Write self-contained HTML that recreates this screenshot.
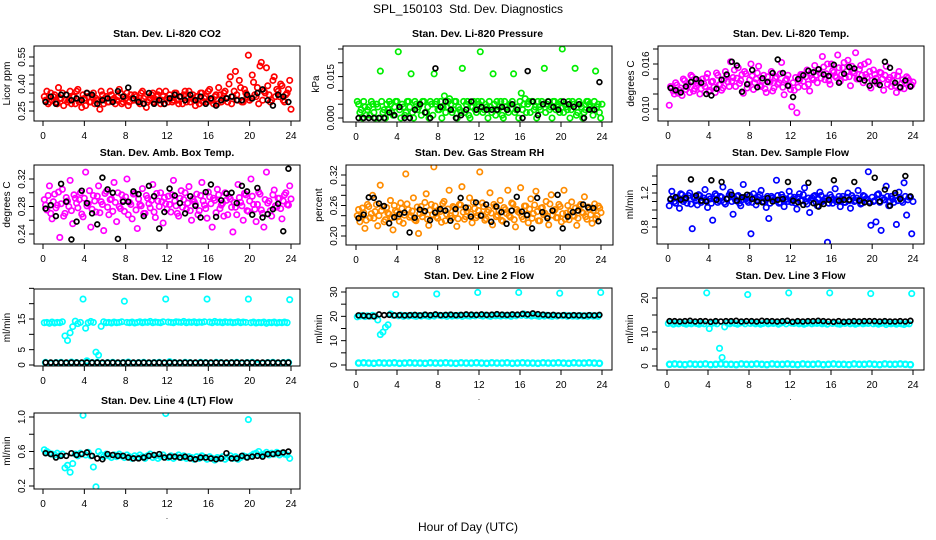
<!DOCTYPE html>
<html><head><meta charset="utf-8"><style>
html,body{margin:0;padding:0;background:#fff;}
svg{display:block;font-family:"Liberation Sans",Arial,sans-serif;}
</style></head><body>
<svg id="chart" width="936" height="540" viewBox="0 0 936 540" xmlns="http://www.w3.org/2000/svg">
<text x="468" y="13" text-anchor="middle" font-size="12">SPL_150103&#160; Std. Dev. Diagnostics</text>
<text x="468" y="531" text-anchor="middle" font-size="12">Hour of Day (UTC)</text>
</svg>
<script>
const xTicks = [0,4,8,12,16,20,24];

const co2 = [0.33,0.36,0.30,0.31,0.34,0.29,0.32,0.35,0.31,0.30,0.36,0.33,0.29,0.37,0.31,0.34,0.28,0.33,0.30,0.35,0.32,0.31,0.36,0.29,0.33,0.30,0.34,0.32,0.31,0.37,0.29,0.33,0.35,0.30,0.32,0.34,0.31,0.29,0.36,0.33,0.30,0.32,0.35,0.31,0.34,0.29,0.33,0.36,0.30,0.32,0.31,0.35,0.29,0.33,0.34,0.30,0.36,0.32,0.31,0.33,0.29,0.35,0.32,0.30,0.37,0.31,0.33,0.29,0.34,0.32,0.36,0.30,0.44,0.33,0.47,0.31,0.38,0.30,0.35,0.56,0.32,0.41,0.33,0.29,0.52,0.36,0.49,0.34,0.31,0.44,0.37,0.33,0.39,0.30,0.35,0.42];
const co2b = [0.31,0.29,0.35,0.33,0.30,0.38,0.32,0.28,0.34,0.31,0.29,0.33,0.36,0.30,0.27,0.32,0.35,0.30,0.33,0.29,0.31,0.26,0.34,0.32,0.30,0.36,0.31,0.29,0.33,0.35,0.30,0.32,0.28,0.34,0.31,0.33,0.30,0.35,0.32,0.27,0.31,0.34,0.30,0.33,0.36,0.31,0.29,0.32,0.34,0.30,0.35,0.31,0.33,0.29,0.36,0.32,0.30,0.34,0.28,0.31,0.35,0.30,0.33,0.36,0.31,0.29,0.34,0.38,0.30,0.35,0.32,0.40,0.29,0.36,0.34,0.42,0.30,0.37,0.33,0.31,0.45,0.34,0.38,0.50,0.31,0.35,0.39,0.30,0.42,0.33,0.36,0.40,0.31,0.34,0.37,0.26];
const co2K = [0.30,0.33,0.29,0.34,0.34,0.31,0.32,0.31,0.35,0.34,0.29,0.31,0.32,0.30,0.36,0.33,0.38,0.32,0.30,0.29,0.35,0.29,0.31,0.29,0.32,0.34,0.33,0.31,0.34,0.31,0.33,0.29,0.32,0.28,0.31,0.32,0.33,0.31,0.31,0.34,0.32,0.35,0.37,0.31,0.28,0.34,0.33,0.30];

const pres = [0.006,0.002,0.0,0.004,0.003,0.001,0.005,0.0,0.004,0.017,0.002,0.0,0.003,0.005,0.001,0.006,0.024,0.0,0.004,0.002,0.006,0.016,0.0,0.005,0.004,0.001,0.006,0.002,0.0,0.005,0.016,0.006,0.003,0.0,0.008,0.004,0.007,0.002,0.006,0.0,0.003,0.018,0.002,0.006,0.0,0.004,0.003,0.006,0.024,0.002,0.005,0.0,0.004,0.016,0.001,0.003,0.006,0.0,0.004,0.002,0.005,0.016,0.003,0.0,0.009,0.005,0.002,0.006,0.006,0.003,0.0,0.004,0.006,0.018,0.005,0.003,0.0,0.006,0.004,0.002,0.025,0.005,0.003,0.0,0.006,0.018,0.002,0.005,0.0,0.003,0.006,0.004,0.001,0.017,0.005,0.0];
const pres2 = [0.005,0.003,0.006,0.001,0.004,0.006,0.002,0.005,0.0,0.006,0.003,0.005,0.006,0.002,0.004,0.006,0.003,0.005,0.001,0.006,0.004,0.002,0.006,0.003,0.005,0.006,0.002,0.004,0.006,0.001,0.005,0.003,0.006,0.004,0.002,0.006,0.005,0.003,0.006,0.004,0.002,0.006,0.005,0.001,0.004,0.006,0.002,0.005,0.006,0.003,0.004,0.006,0.002,0.005,0.006,0.004,0.001,0.006,0.003,0.005,0.006,0.002,0.004,0.006,0.003,0.007,0.005,0.002,0.006,0.004,0.006,0.003,0.005,0.002,0.006,0.004,0.006,0.003,0.005,0.006,0.002,0.004,0.006,0.003,0.005,0.001,0.006,0.004,0.002,0.006,0.005,0.003,0.006,0.004,0.002,0.005];
const presK = [0.0,0.0,0.0,0.0,0.0,0.0,0.002,0.001,0.004,0.0,0.0,0.003,0.005,0.002,0.0,0.018,0.004,0.006,0.003,0.0,0.001,0.003,0.006,0.003,0.004,0.003,0.003,0.003,0.004,0.003,0.005,0.003,0.0,0.017,0.006,0.001,0.005,0.006,0.004,0.003,0.006,0.005,0.004,0.005,0.0,0.003,0.003,0.013];

const temp = [0.0105,0.0128,0.0120,0.0132,0.0125,0.0118,0.0138,0.0130,0.0122,0.0143,0.0127,0.0135,0.0120,0.0140,0.0130,0.0147,0.0125,0.0137,0.0122,0.0145,0.0133,0.0128,0.0150,0.0136,0.0163,0.0142,0.0130,0.0155,0.0138,0.0121,0.0147,0.0133,0.0160,0.0126,0.0140,0.0157,0.0130,0.0145,0.0122,0.0136,0.0150,0.0128,0.0143,0.0135,0.0162,0.0119,0.0140,0.0131,0.0103,0.0125,0.0095,0.0138,0.0146,0.0130,0.0152,0.0124,0.0141,0.0158,0.0135,0.0148,0.0170,0.0139,0.0160,0.0133,0.0151,0.0144,0.0172,0.0137,0.0155,0.0142,0.0165,0.0131,0.0150,0.0175,0.0140,0.0158,0.0135,0.0146,0.0163,0.0128,0.0152,0.0141,0.0136,0.0148,0.0125,0.0157,0.0139,0.0130,0.0145,0.0122,0.0150,0.0134,0.0127,0.0143,0.0138,0.0132];
const temp2 = [0.0130,0.0124,0.0135,0.0121,0.0128,0.0140,0.0126,0.0133,0.0145,0.0124,0.0131,0.0138,0.0127,0.0134,0.0142,0.0123,0.0136,0.0129,0.0148,0.0132,0.0125,0.0139,0.0144,0.0130,0.0137,0.0152,0.0141,0.0134,0.0146,0.0150,0.0128,0.0139,0.0144,0.0135,0.0148,0.0131,0.0138,0.0127,0.0143,0.0136,0.0124,0.0141,0.0133,0.0147,0.0129,0.0138,0.0145,0.0126,0.0135,0.0142,0.0129,0.0146,0.0137,0.0143,0.0133,0.0148,0.0139,0.0145,0.0152,0.0141,0.0156,0.0147,0.0138,0.0160,0.0149,0.0142,0.0155,0.0146,0.0162,0.0150,0.0143,0.0157,0.0148,0.0140,0.0153,0.0145,0.0160,0.0142,0.0150,0.0138,0.0146,0.0134,0.0149,0.0140,0.0145,0.0133,0.0142,0.0137,0.0131,0.0144,0.0128,0.0139,0.0135,0.0141,0.0130,0.0136];
const tempK = [0.0128,0.0125,0.0122,0.0130,0.0136,0.0140,0.0135,0.0120,0.0118,0.0127,0.0139,0.0146,0.0163,0.0158,0.0123,0.0133,0.0152,0.0129,0.0141,0.0136,0.0148,0.0166,0.0148,0.0131,0.0116,0.0140,0.0145,0.0151,0.0149,0.0153,0.0146,0.0144,0.0159,0.0135,0.0147,0.0156,0.0154,0.0140,0.0138,0.0131,0.0137,0.0132,0.0163,0.0155,0.0135,0.0129,0.0138,0.0130];

const amb = [0.290,0.275,0.310,0.262,0.298,0.282,0.235,0.305,0.270,0.288,0.318,0.255,0.292,0.278,0.300,0.265,0.330,0.284,0.250,0.296,0.272,0.310,0.287,0.245,0.302,0.268,0.291,0.315,0.258,0.280,0.297,0.273,0.320,0.286,0.262,0.299,0.248,0.283,0.306,0.270,0.292,0.278,0.312,0.264,0.288,0.300,0.256,0.284,0.295,0.272,0.318,0.281,0.266,0.303,0.290,0.276,0.309,0.260,0.287,0.298,0.274,0.315,0.282,0.263,0.294,0.250,0.289,0.305,0.277,0.285,0.300,0.268,0.291,0.243,0.279,0.312,0.286,0.260,0.297,0.273,0.320,0.283,0.258,0.301,0.275,0.250,0.330,0.288,0.266,0.304,0.279,0.292,0.262,0.297,0.283,0.310];
const amb2 = [0.282,0.296,0.270,0.287,0.278,0.301,0.284,0.266,0.293,0.280,0.274,0.297,0.285,0.290,0.269,0.292,0.281,0.303,0.276,0.288,0.295,0.271,0.283,0.299,0.279,0.290,0.273,0.286,0.300,0.277,0.289,0.294,0.268,0.283,0.298,0.275,0.291,0.281,0.270,0.296,0.284,0.289,0.272,0.299,0.280,0.287,0.293,0.276,0.283,0.297,0.288,0.270,0.292,0.279,0.300,0.285,0.274,0.291,0.283,0.268,0.296,0.288,0.277,0.301,0.284,0.292,0.271,0.297,0.282,0.266,0.289,0.294,0.279,0.286,0.268,0.293,0.281,0.299,0.274,0.288,0.295,0.276,0.283,0.298,0.270,0.290,0.285,0.274,0.297,0.281,0.292,0.277,0.288,0.300,0.282,0.291];
const ambK = [0.277,0.282,0.266,0.313,0.287,0.232,0.258,0.303,0.285,0.270,0.254,0.322,0.305,0.300,0.233,0.287,0.287,0.302,0.298,0.266,0.310,0.295,0.248,0.272,0.306,0.296,0.285,0.270,0.295,0.281,0.264,0.301,0.312,0.265,0.289,0.299,0.300,0.285,0.310,0.302,0.268,0.307,0.264,0.269,0.276,0.284,0.244,0.335];

const rh = [0.240,0.228,0.255,0.215,0.262,0.236,0.280,0.248,0.220,0.300,0.258,0.232,0.245,0.270,0.212,0.250,0.238,0.265,0.225,0.322,0.252,0.240,0.275,0.230,0.205,0.258,0.246,0.283,0.221,0.262,0.336,0.238,0.251,0.227,0.268,0.243,0.290,0.235,0.256,0.219,0.262,0.297,0.233,0.249,0.275,0.226,0.254,0.240,0.326,0.265,0.231,0.247,0.285,0.222,0.258,0.241,0.270,0.229,0.252,0.290,0.237,0.263,0.218,0.248,0.295,0.233,0.259,0.226,0.273,0.244,0.288,0.230,0.255,0.242,0.268,0.222,0.281,0.249,0.236,0.262,0.228,0.290,0.245,0.232,0.267,0.239,0.221,0.258,0.247,0.277,0.233,0.252,0.225,0.263,0.240,0.255];
const rh2 = [0.252,0.238,0.246,0.231,0.258,0.244,0.235,0.262,0.240,0.250,0.228,0.256,0.243,0.236,0.260,0.247,0.229,0.254,0.241,0.263,0.237,0.249,0.232,0.257,0.244,0.238,0.266,0.233,0.251,0.242,0.259,0.235,0.248,0.264,0.230,0.253,0.240,0.258,0.245,0.234,0.261,0.247,0.238,0.255,0.243,0.266,0.236,0.250,0.242,0.258,0.234,0.251,0.245,0.262,0.238,0.249,0.231,0.256,0.244,0.240,0.265,0.232,0.252,0.246,0.238,0.259,0.243,0.253,0.235,0.261,0.248,0.230,0.256,0.245,0.239,0.263,0.241,0.252,0.236,0.258,0.244,0.233,0.260,0.249,0.240,0.255,0.235,0.262,0.245,0.238,0.257,0.242,0.250,0.234,0.259,0.246];
const rhK = [0.235,0.242,0.276,0.275,0.264,0.259,0.225,0.237,0.243,0.246,0.207,0.236,0.252,0.249,0.231,0.246,0.253,0.250,0.230,0.253,0.275,0.256,0.238,0.266,0.240,0.262,0.228,0.258,0.247,0.224,0.250,0.277,0.248,0.241,0.215,0.275,0.247,0.235,0.250,0.281,0.215,0.238,0.247,0.250,0.262,0.256,0.255,0.229];

const sf = [1.05,1.22,1.10,1.15,1.02,1.18,1.12,1.08,1.20,0.78,1.14,1.06,1.17,1.11,1.24,1.03,1.13,0.88,1.19,1.09,1.16,1.27,1.07,1.14,1.21,0.95,1.11,1.17,1.05,1.30,1.13,1.09,0.72,1.19,1.06,1.15,1.23,1.10,1.03,0.90,1.16,1.12,1.35,1.08,1.18,1.04,1.13,1.22,1.09,1.15,1.01,1.19,1.11,1.26,1.07,0.97,1.14,1.17,1.05,1.21,1.10,1.13,0.62,1.18,1.08,1.25,1.12,1.04,1.16,1.09,1.20,1.02,1.14,1.11,1.23,1.07,1.17,1.13,1.45,0.82,1.10,0.86,1.19,0.76,1.12,1.28,1.05,1.16,1.09,0.83,1.21,1.11,1.32,0.94,1.15,0.72];
const sf2 = [1.12,1.16,1.08,1.14,1.19,1.10,1.13,1.17,1.07,1.15,1.11,1.18,1.09,1.14,1.12,1.16,1.08,1.13,1.17,1.11,1.15,1.09,1.13,1.18,1.10,1.14,1.16,1.08,1.12,1.15,1.11,1.17,1.09,1.14,1.12,1.18,1.10,1.13,1.16,1.08,1.14,1.11,1.17,1.09,1.15,1.12,1.10,1.16,1.13,1.08,1.15,1.11,1.18,1.10,1.14,1.12,1.16,1.09,1.13,1.17,1.11,1.14,1.08,1.15,1.12,1.10,1.16,1.13,1.09,1.15,1.11,1.17,1.10,1.14,1.12,1.08,1.16,1.13,1.10,1.15,1.11,1.18,1.09,1.14,1.12,1.16,1.10,1.13,1.17,1.11,1.14,1.09,1.16,1.12,1.15,1.10];
const sfK = [1.13,1.15,1.12,1.14,1.36,1.17,1.11,1.10,1.35,1.12,1.33,1.13,1.18,1.11,1.15,1.18,1.13,1.10,1.09,1.14,1.10,1.12,1.13,1.33,1.11,1.09,1.06,1.32,1.08,1.04,1.07,1.12,1.35,1.11,1.12,1.12,1.33,1.11,1.09,1.08,1.38,1.10,1.24,1.05,1.20,1.13,1.40,1.16];

const l1 = [13.8,13.9,13.6,14.0,13.7,13.9,13.8,14.1,9.5,8.0,10.5,12.5,14.3,13.5,13.9,21.5,12.0,13.8,14.2,13.9,4.2,3.2,12.6,14.1,13.8,13.9,13.7,14.0,13.8,13.9,14.1,20.8,13.9,13.8,14.0,13.7,13.9,14.1,13.8,14.0,13.9,14.2,13.8,14.0,13.9,13.8,14.1,21.5,14.0,13.9,13.8,14.1,14.0,13.9,14.2,13.8,14.0,13.9,14.1,13.8,14.0,13.9,14.1,21.5,14.0,13.8,14.2,13.9,14.0,13.8,14.1,13.9,14.0,13.8,13.9,14.1,13.8,14.0,13.9,21.5,13.8,14.0,13.7,13.9,13.8,14.0,13.6,13.9,13.8,14.0,13.7,13.9,13.8,14.0,13.8,21.3];
const l1Low = [0.8,0.6,0.7,0.8,0.6,0.9,0.7,0.6,1.3,0.7,0.8,0.6,0.7,0.8,0.6,0.7,0.9,0.6,0.7,0.8,0.6,0.7,0.8,0.6,1.0,0.7,0.6,0.8,0.7,0.6,0.8,0.7,0.6,0.8,0.7,0.6,0.7,0.8,0.6,0.7,0.8,0.3,0.6,0.7,0.8,0.6,0.7,0.8];
const l1K = [0.8,0.8,0.8,0.8,0.8,0.8,0.8,0.8,0.8,0.8,0.8,0.8,0.8,0.8,0.8,0.8,0.8,0.8,0.8,0.8,0.8,0.8,0.8,0.8,0.8,0.8,0.8,0.8,0.8,0.8,0.8,0.8,0.8,0.8,0.8,0.8,0.8,0.8,0.8,0.8,0.8,0.8,0.8,0.8,0.8,0.8,0.8,0.8];

const l2 = [19.8,20.1,20.3,19.9,20.2,20.0,20.4,20.1,18.5,12.5,13.5,15.5,16.5,21.0,20.4,29.0,20.2,20.5,20.0,20.3,20.1,20.4,20.2,20.0,20.3,20.1,20.4,20.2,20.0,20.3,20.1,29.2,20.4,20.2,20.3,20.0,20.5,20.1,20.3,20.2,20.4,20.0,20.3,20.2,20.1,20.4,20.2,29.8,20.3,20.1,20.5,20.2,20.0,20.4,20.2,20.3,20.1,20.4,20.2,20.3,20.0,20.5,20.2,29.8,20.4,21.0,20.3,20.5,20.1,20.4,20.2,20.0,20.3,20.1,20.4,20.2,20.0,20.3,20.1,29.5,20.2,20.4,20.0,20.3,20.1,20.2,20.0,20.3,20.1,20.2,20.0,20.3,20.1,20.2,20.0,29.8];
const l2Low = [0.8,0.9,0.8,0.7,0.9,0.8,0.8,0.9,0.7,0.8,0.9,0.8,0.8,0.7,0.9,0.8,0.8,0.9,0.8,0.7,0.9,0.8,0.8,0.9,0.8,0.7,0.9,0.8,0.8,0.9,0.7,0.8,0.9,0.8,0.8,0.7,0.9,0.8,0.8,0.9,0.8,0.7,0.9,0.8,0.8,0.9,0.8,0.7];
const l2K = [20.4,20.3,20.1,20.0,20.8,20.5,20.6,20.4,20.5,20.4,20.5,20.6,20.4,20.7,20.5,20.8,20.5,20.6,20.7,20.5,20.6,20.8,20.7,20.6,20.8,20.6,20.7,20.9,20.7,20.6,20.8,20.7,21.0,20.8,21.2,20.9,20.7,20.5,20.6,20.4,20.5,20.3,20.5,20.4,20.3,20.5,20.4,20.6];

const l3 = [12.5,12.7,12.3,12.6,12.4,12.8,12.5,12.3,12.6,12.4,12.7,12.5,12.3,12.6,12.4,21.5,11.0,12.5,12.7,12.4,5.2,2.5,11.5,12.6,12.4,12.7,12.5,12.3,12.6,12.8,12.4,21.0,12.5,12.7,12.4,12.6,12.3,12.5,12.8,12.4,12.6,12.5,12.7,12.3,12.6,12.9,12.4,21.5,12.6,12.5,12.7,12.4,12.6,12.3,12.5,12.8,12.4,12.6,12.5,12.7,12.4,12.6,12.3,21.5,12.5,12.7,12.4,12.3,12.6,12.5,12.8,12.4,12.6,12.3,12.5,12.7,12.4,12.6,12.5,21.3,12.4,12.6,12.3,12.5,12.7,12.2,12.5,12.4,12.6,12.3,12.5,12.4,12.2,12.5,12.4,21.3];
const l3Low = [0.5,0.6,0.5,0.4,0.6,0.5,0.5,0.6,0.4,0.5,0.6,0.5,0.5,0.4,0.6,0.5,0.5,0.6,0.5,0.4,0.6,0.5,0.5,0.6,0.5,0.4,0.6,0.5,0.5,0.6,0.4,0.5,0.6,0.5,0.5,0.4,0.6,0.5,0.5,0.6,0.5,0.4,0.6,0.5,0.5,0.6,0.5,0.4];
const l3K = [13.2,13.2,13.1,13.2,13.3,13.1,13.2,13.2,13.0,13.2,13.1,13.2,13.2,13.3,13.1,13.2,13.2,13.1,13.3,13.2,13.2,13.1,13.2,13.3,13.0,13.2,13.1,13.2,13.2,13.3,13.2,13.1,13.0,13.2,13.0,13.1,13.2,13.1,13.2,13.2,13.2,13.1,13.2,13.1,13.1,13.2,13.1,13.3];

const l4 = [0.62,0.60,0.58,0.57,0.56,0.58,0.55,0.57,0.41,0.44,0.36,0.46,0.57,0.55,0.58,1.02,0.56,0.59,0.55,0.42,0.19,0.60,0.56,0.54,0.57,0.55,0.53,0.56,0.54,0.57,0.55,0.53,0.56,0.54,0.52,0.55,0.53,0.56,0.54,0.52,0.55,0.57,0.53,0.55,0.52,0.54,0.56,1.04,0.53,0.55,0.52,0.54,0.56,0.53,0.55,0.52,0.54,0.53,0.51,0.54,0.52,0.55,0.53,0.51,0.54,0.52,0.50,0.53,0.52,0.54,0.51,0.53,0.55,0.52,0.54,0.51,0.53,0.55,0.54,0.97,0.55,0.57,0.58,0.60,0.56,0.57,0.59,0.56,0.58,0.57,0.59,0.56,0.58,0.57,0.56,0.52];
const l4K = [0.58,0.57,0.53,0.55,0.55,0.58,0.56,0.57,0.59,0.55,0.52,0.51,0.57,0.56,0.55,0.55,0.53,0.52,0.52,0.53,0.55,0.56,0.57,0.53,0.54,0.54,0.53,0.54,0.52,0.51,0.53,0.53,0.52,0.51,0.52,0.58,0.52,0.52,0.55,0.53,0.54,0.55,0.54,0.57,0.57,0.58,0.59,0.60];

const panels = [
 {name:'co2',title:'Stan. Dev. Li-820 CO2',ylab:'Licor ppm',box:[34,46,300,121],xr:[43,291],v:[0.25,0.55],py:[111,57],ticks:[0.25,0.30,0.35,0.40,0.45,0.50,0.55],labels:['0.25','0.40','0.55'],col:'#ff0000',series:[co2,co2b],low:[],k:co2K},
 {name:'pressure',title:'Stan. Dev. Li-820 Pressure',ylab:'kPa',box:[343,46,612,122],xr:[356,602],v:[0,0.025],py:[118,49],ticks:[0,0.005,0.010,0.015,0.020,0.025],labels:['0.000','0.015'],col:'#00ee00',series:[pres,pres2],low:[],k:presK},
 {name:'temp',title:'Stan. Dev. Li-820 Temp.',ylab:'degrees C',box:[658,46,924,121],xr:[668,913],v:[0.010,0.016],py:[109,64],ticks:[0.010,0.012,0.014,0.016,0.018],labels:['0.010','0.016'],col:'#ff00ff',series:[temp,temp2],low:[],k:tempK},
 {name:'amb-box-temp',title:'Stan. Dev. Amb. Box Temp.',ylab:'degrees C',box:[34,165,300,244],xr:[43,291],v:[0.24,0.32],py:[234,179],ticks:[0.24,0.26,0.28,0.30,0.32],labels:['0.24','0.28','0.32'],col:'#ff00ff',series:[amb,amb2],low:[],k:ambK},
 {name:'gas-rh',title:'Stan. Dev. Gas Stream RH',ylab:'percent',box:[346,165,613,245],xr:[356,601],v:[0.20,0.32],py:[236,175],ticks:[0.20,0.22,0.24,0.26,0.28,0.30,0.32],labels:['0.20','0.26','0.32'],col:'#ff8c00',series:[rh,rh2],low:[],k:rhK},
 {name:'sample-flow',title:'Stan. Dev. Sample Flow',ylab:'ml/min',box:[657,165,924,244],xr:[668,913],v:[0.8,1.2],py:[227,193],ticks:[0.8,0.9,1.0,1.1,1.2,1.3,1.4],labels:['0.8','1.2'],col:'#0000ff',series:[sf,sf2],low:[],k:sfK},
 {name:'line1-flow',title:'Stan. Dev. Line 1 Flow',ylab:'ml/min',box:[34,289,300,366],xr:[43,291],v:[0,15],py:[365,319],ticks:[0,5,10,15,20,25],labels:['0','5','15'],col:'#00ffff',series:[l1],low:l1Low,k:l1K},
 {name:'line2-flow',title:'Stan. Dev. Line 2 Flow',ylab:'ml/min',box:[346,288,612,370],xr:[356,602],v:[0,30],py:[365,292],ticks:[0,5,10,15,20,25,30],labels:['0','10','20','30'],col:'#00ffff',series:[l2],low:l2Low,k:l2K},
 {name:'line3-flow',title:'Stan. Dev. Line 3 Flow',ylab:'ml/min',box:[657,288,924,370],xr:[667,913],v:[0,20],py:[366,298],ticks:[0,5,10,15,20],labels:['0','5','10','20'],col:'#00ffff',series:[l3],low:l3Low,k:l3K},
 {name:'line4-flow',title:'Stan. Dev. Line 4 (LT) Flow',ylab:'ml/min',box:[34,413,300,489],xr:[43,291],v:[0.2,1.0],py:[486,417],ticks:[0.2,0.4,0.6,0.8,1.0],labels:['0.2','0.6','1.0'],col:'#00ffff',series:[l4],low:[],k:l4K}
];

const NS='http://www.w3.org/2000/svg';
const svg=document.getElementById('chart');
function mk(tag,attrs,parent){const e=document.createElementNS(NS,tag);for(const k in attrs)e.setAttribute(k,attrs[k]);(parent||svg).appendChild(e);return e;}

panels.forEach(p=>{
  const g=mk('g',{});
  
  
  const [x1,y1,x2,y2]=p.box;
  const sx=h=>p.xr[0]+(p.xr[1]-p.xr[0])*h/24;
  const sy=v=>p.py[0]+(p.py[1]-p.py[0])*(v-p.v[0])/(p.v[1]-p.v[0]);
  const cx=(x1+x2)/2;
  const t=mk('text',{x:cx,y:y1-9,'text-anchor':'middle','font-size':'10.5','font-weight':'bold'},g);
  t.textContent=p.title;
  
  
  const xa=mk('g',{},g);
  
  
  mk('line',{x1:sx(xTicks[0]),y1:y2,x2:sx(xTicks[xTicks.length-1]),y2:y2,stroke:'#000','stroke-width':1},xa);
  xTicks.forEach(h=>{
    mk('line',{x1:sx(h),y1:y2,x2:sx(h),y2:y2+5,stroke:'#000','stroke-width':1},xa);
    const l=mk('text',{x:sx(h),y:y2+18,'text-anchor':'middle','font-size':'10'},xa);
    l.textContent=h;
  });
  const dot=mk('text',{x:cx,y:y2+30,'text-anchor':'middle','font-size':'8'},g);dot.textContent='.';
  const ya=mk('g',{},g);
  
  
  p.ticks.forEach(v=>{
    mk('line',{x1:x1-5,y1:sy(v),x2:x1,y2:sy(v),stroke:'#000','stroke-width':1},ya);
  });
  p.labels.forEach(s=>{
    const y=sy(parseFloat(s));
    const l=mk('text',{x:x1-9,y:y,'text-anchor':'middle','font-size':'10',transform:`rotate(-90 ${x1-9} ${y})`},ya);
    l.textContent=s;
  });
  const yl=mk('text',{x:x1-24,y:(y1+y2)/2,'text-anchor':'middle','font-size':'10',transform:`rotate(-90 ${x1-24} ${(y1+y2)/2})`},g);
  yl.textContent=p.ylab;
  
  
  const cid='clip-'+p.name;
  const cp=mk('clipPath',{id:cid},g);
  mk('rect',{x:x1,y:y1,width:x2-x1,height:y2-y1},cp);
  const pts=mk('g',{'clip-path':`url(#${cid})`,fill:'none'},g);
  
  
  const sw=1.7;
  if(p.low.length){
    p.low.forEach((v,i)=>{
      const h=(i+0.5)*24/p.low.length;
      const c=mk('circle',{cx:sx(h),cy:sy(v),r:2.7,stroke:p.col,'stroke-width':2.2},pts);
      
      
    });
  }
  p.series.forEach((arr,si)=>{
    arr.forEach((v,i)=>{
      const h=(i+0.5+si*0.5)*24/arr.length;
      const c=mk('circle',{cx:sx(h),cy:sy(v),r:2.7,stroke:p.col,'stroke-width':sw},pts);
      
      
    });
  });
  p.k.forEach((v,i)=>{
    const h=(i+0.5)*24/p.k.length;
    const c=mk('circle',{cx:sx(h),cy:sy(v),r:2.4,stroke:'#000','stroke-width':1.7},pts);
    
    
  });
  const b=mk('rect',{x:x1,y:y1,width:x2-x1,height:y2-y1,fill:'none',stroke:'#000','stroke-width':1},g);
  
  
});
</script>
</body></html>
